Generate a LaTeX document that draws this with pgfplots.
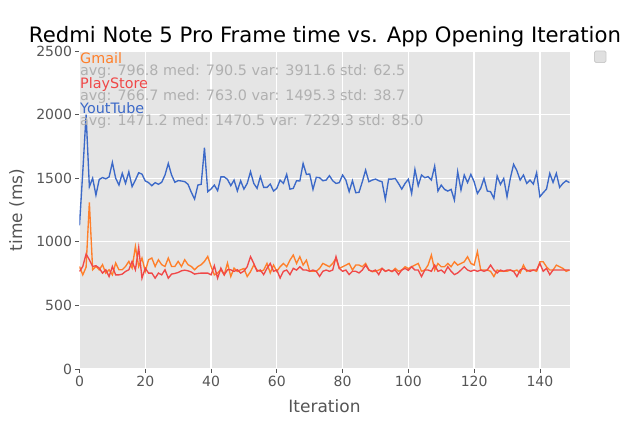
\documentclass[border=0pt]{standalone}
\usepackage{pgfplots}
\pgfplotsset{compat=1.18}
\usepackage{pgfplotstable}
\usepackage{fontspec}
\setmainfont{DejaVu Sans}
\definecolor{bg}{HTML}{E5E5E5}
\definecolor{tickc}{HTML}{555555}
\definecolor{gm}{RGB}{255,127,42}
\definecolor{ps}{RGB}{240,72,72}
\definecolor{yt}{RGB}{60,105,200}
\definecolor{annot}{HTML}{B0B0B0}

\pgfplotstableread{
x y
0 1130
1 1550
2 2000
3 1433
4 1500
5 1367
6 1490
7 1505
8 1495
9 1510
10 1624
11 1500
12 1446
13 1538
14 1460
15 1550
16 1433
17 1485
18 1543
19 1532
20 1478
21 1465
22 1441
23 1465
24 1452
25 1468
26 1525
27 1616
28 1525
29 1468
30 1481
31 1478
32 1473
33 1452
34 1389
35 1336
36 1446
37 1452
38 1739
39 1394
40 1415
41 1446
42 1402
43 1510
44 1510
45 1491
46 1441
47 1485
48 1400
49 1480
50 1414
51 1459
52 1551
53 1459
54 1420
55 1512
56 1428
57 1428
58 1454
59 1399
60 1420
61 1485
62 1459
63 1530
64 1414
65 1420
66 1480
67 1478
68 1616
69 1530
70 1533
71 1412
72 1507
73 1504
74 1480
75 1485
76 1520
77 1480
78 1459
79 1465
80 1525
81 1485
82 1394
83 1480
84 1386
85 1389
86 1472
87 1564
88 1472
89 1485
90 1493
91 1480
92 1472
93 1333
94 1493
95 1493
96 1498
97 1459
98 1414
99 1459
100 1492
101 1380
102 1569
103 1441
104 1525
105 1504
106 1512
107 1485
108 1595
109 1399
110 1446
111 1412
112 1399
113 1412
114 1328
115 1551
116 1407
117 1525
118 1465
119 1530
120 1472
121 1380
122 1420
123 1498
124 1399
125 1394
126 1341
127 1517
128 1451
129 1498
130 1354
131 1498
132 1609
133 1559
134 1485
135 1525
136 1459
137 1485
138 1454
139 1543
140 1354
141 1386
142 1414
143 1538
144 1467
145 1538
146 1428
147 1459
148 1480
149 1465
}\youtube

\pgfplotstableread{
x y
0 806
1 740
2 800
3 1310
4 780
5 806
6 780
7 820
8 754
9 780
10 740
11 833
12 780
13 780
14 806
15 846
16 793
17 963
18 806
19 872
20 767
21 859
22 872
23 806
24 859
25 820
26 806
27 872
28 806
29 806
30 846
31 806
32 859
33 820
34 806
35 780
36 806
37 820
38 846
39 885
40 806
41 740
42 754
43 780
44 740
45 833
46 727
47 793
48 767
49 780
50 790
51 727
52 765
53 817
54 778
55 768
56 777
57 830
58 755
59 817
60 768
61 804
62 830
63 804
64 856
65 896
66 830
67 883
68 817
69 856
70 768
71 768
72 768
73 791
74 830
75 817
76 804
77 830
78 870
79 791
80 804
81 817
82 830
83 778
84 817
85 817
86 804
87 830
88 778
89 765
90 768
91 778
92 791
93 768
94 778
95 765
96 791
97 768
98 778
99 804
100 790
101 804
102 817
103 830
104 768
105 778
106 817
107 896
108 778
109 830
110 804
111 804
112 830
113 804
114 843
115 817
116 830
117 843
118 883
119 830
120 817
121 922
122 778
123 778
124 778
125 768
126 727
127 778
128 768
129 768
130 768
131 778
132 768
133 778
134 755
135 817
136 768
137 778
138 778
139 768
140 843
141 843
142 804
143 778
144 778
145 817
146 804
147 791
148 768
149 778
}\gmail

\pgfplotstableread{
x y
0 767
1 806
2 903
3 859
4 806
5 812
6 793
7 754
8 780
9 727
10 806
11 740
12 740
13 746
14 767
15 780
16 846
17 780
18 955
19 714
20 793
21 754
22 754
23 714
24 754
25 740
26 780
27 714
28 746
29 751
30 759
31 772
32 777
33 772
34 762
35 746
36 751
37 754
38 754
39 754
40 740
41 812
42 714
43 793
44 740
45 780
46 780
47 767
48 780
49 754
50 770
51 804
52 883
53 830
54 768
55 778
56 742
57 791
58 830
59 768
60 778
61 715
62 768
63 778
64 742
65 791
66 778
67 804
68 778
69 778
70 768
71 778
72 768
73 728
74 768
75 778
76 768
77 778
78 883
79 791
80 768
81 778
82 742
83 768
84 768
85 755
86 778
87 817
88 778
89 768
90 778
91 742
92 791
93 768
94 778
95 768
96 778
97 742
98 778
99 791
100 775
101 804
102 778
103 778
104 727
105 778
106 778
107 768
108 817
109 768
110 778
111 755
112 804
113 768
114 742
115 755
116 778
117 804
118 778
119 768
120 778
121 768
122 778
123 768
124 778
125 817
126 778
127 755
128 778
129 768
130 778
131 778
132 768
133 727
134 778
135 791
136 778
137 768
138 778
139 778
140 830
141 768
142 791
143 742
144 778
145 778
146 778
147 778
148 778
149 778
}\playstore

\begin{document}
\begin{tikzpicture}[x=1pt,y=1pt]
\path[use as bounding box] (0,0) rectangle (633,422);
\begin{axis}[
  at={(79.5pt,53pt)}, anchor=south west,
  scale only axis, width=490pt, height=318pt,
  xmin=0, xmax=149, ymin=0, ymax=2500,
  axis background/.style={fill=bg},
  axis line style={draw=none},
  grid=major,
  major grid style={white, line width=1.3pt},
  xtick={0,20,...,140}, ytick={0,500,...,2500},
  tick pos=left,
  tick align=outside,
  major tick length=4pt,
  tick style={tickc, line width=0.8pt},
  ticklabel style={font=\fontsize{14}{16}\selectfont, text=tickc},
  /pgf/number format/assume math mode=true,
  /pgf/number format/1000 sep={},
  xlabel={Iteration}, ylabel={time (ms)},
  every axis x label/.style={at={(axis description cs:0.5,-0.1164)}, anchor=center, font=\fontsize{17}{20}\selectfont, text=tickc},
  every axis y label/.style={at={(axis description cs:-0.128,0.5)}, anchor=center, rotate=90, font=\fontsize{17}{20}\selectfont, text=tickc},
]
\addplot[gm, line width=1.35pt, no markers] table[x=x,y=y] {\gmail};
\addplot[ps, line width=1.35pt, no markers] table[x=x,y=y] {\playstore};
\addplot[yt, line width=1.35pt, no markers] table[x=x,y=y] {\youtube};
\end{axis}
\node[anchor=base, inner sep=0pt, font=\fontsize{21.2}{25}\selectfont] at (325,379.5) {Redmi Note 5 Pro Frame time vs. App Opening Iteration};
\begin{scope}[every node/.style={anchor=base west, inner sep=0pt, font=\fontsize{14.35}{16}\selectfont}]
\node[text=gm] at (80,358.5) {Gmail};
\node[text=annot] at (80,346) {avg: 796.8 med: 790.5 var: 3911.6 std: 62.5};
\node[text=ps] at (80,333.5) {PlayStore};
\node[text=annot] at (80,321) {avg: 766.7 med: 763.0 var: 1495.3 std: 38.7};
\node[text=yt] at (80,308.5) {YoutTube};
\node[text=annot] at (80,296) {avg: 1471.2 med: 1470.5 var: 7229.3 std: 85.0};
\end{scope}
\draw[rounded corners=1.5pt, fill=black!12, draw=black!20, line width=0.8pt] (594.5,359.5) rectangle (606,371);
\end{tikzpicture}
\end{document}
